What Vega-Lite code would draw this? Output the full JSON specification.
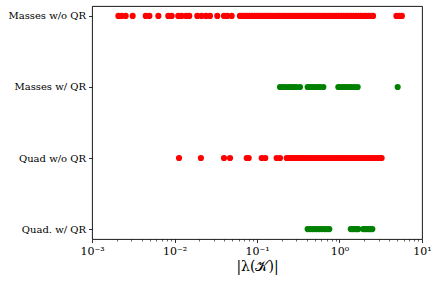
{
  "$schema": "https://vega.github.io/schema/vega-lite/v6.json",
  "width": 330,
  "height": 233,
  "autosize": {"type": "none"},
  "padding": {"left": 92, "top": 6, "right": 14, "bottom": 43},
  "background": "white",
  "config": {
    "view": {"stroke": "#000", "strokeWidth": 0.9},
    "font": "DejaVu Serif",
    "axis": {"labelFont": "DejaVu Serif", "titleFont": "DejaVu Serif", "labelColor": "#000", "titleColor": "#000", "tickColor": "#000", "domain": false, "grid": false, "tickWidth": 0.8}
  },
  "data": {"values": [
    {"g":"Masses w/o QR","v":0.00209},{"g":"Masses w/o QR","v":0.00229},{"g":"Masses w/o QR","v":0.00256},{"g":"Masses w/o QR","v":0.00311},
    {"g":"Masses w/o QR","v":0.00448},{"g":"Masses w/o QR","v":0.00496},{"g":"Masses w/o QR","v":0.00637},{"g":"Masses w/o QR","v":0.00841},
    {"g":"Masses w/o QR","v":0.00924},{"g":"Masses w/o QR","v":0.0111},{"g":"Masses w/o QR","v":0.0122},{"g":"Masses w/o QR","v":0.0138},
    {"g":"Masses w/o QR","v":0.0151},{"g":"Masses w/o QR","v":0.0189},{"g":"Masses w/o QR","v":0.0213},{"g":"Masses w/o QR","v":0.0241},
    {"g":"Masses w/o QR","v":0.0269},{"g":"Masses w/o QR","v":0.033},{"g":"Masses w/o QR","v":0.0398},{"g":"Masses w/o QR","v":0.0436},
    {"g":"Masses w/o QR","v":0.0493},{"g":"Masses w/o QR","v":0.062},{"g":"Masses w/o QR","v":0.066},{"g":"Masses w/o QR","v":0.071},
    {"g":"Masses w/o QR","v":0.076},{"g":"Masses w/o QR","v":0.081},{"g":"Masses w/o QR","v":0.087},{"g":"Masses w/o QR","v":0.093},
    {"g":"Masses w/o QR","v":0.1},{"g":"Masses w/o QR","v":0.107},{"g":"Masses w/o QR","v":0.115},{"g":"Masses w/o QR","v":0.123},
    {"g":"Masses w/o QR","v":0.132},{"g":"Masses w/o QR","v":0.141},{"g":"Masses w/o QR","v":0.151},{"g":"Masses w/o QR","v":0.162},
    {"g":"Masses w/o QR","v":0.174},{"g":"Masses w/o QR","v":0.186},{"g":"Masses w/o QR","v":0.2},{"g":"Masses w/o QR","v":0.214},
    {"g":"Masses w/o QR","v":0.229},{"g":"Masses w/o QR","v":0.245},{"g":"Masses w/o QR","v":0.263},{"g":"Masses w/o QR","v":0.282},
    {"g":"Masses w/o QR","v":0.302},{"g":"Masses w/o QR","v":0.324},{"g":"Masses w/o QR","v":0.347},{"g":"Masses w/o QR","v":0.372},
    {"g":"Masses w/o QR","v":0.398},{"g":"Masses w/o QR","v":0.427},{"g":"Masses w/o QR","v":0.457},{"g":"Masses w/o QR","v":0.49},
    {"g":"Masses w/o QR","v":0.525},{"g":"Masses w/o QR","v":0.562},{"g":"Masses w/o QR","v":0.603},{"g":"Masses w/o QR","v":0.646},
    {"g":"Masses w/o QR","v":0.692},{"g":"Masses w/o QR","v":0.741},{"g":"Masses w/o QR","v":0.794},{"g":"Masses w/o QR","v":0.851},
    {"g":"Masses w/o QR","v":0.912},{"g":"Masses w/o QR","v":0.977},{"g":"Masses w/o QR","v":1.05},{"g":"Masses w/o QR","v":1.12},
    {"g":"Masses w/o QR","v":1.2},{"g":"Masses w/o QR","v":1.29},{"g":"Masses w/o QR","v":1.38},{"g":"Masses w/o QR","v":1.48},
    {"g":"Masses w/o QR","v":1.58},{"g":"Masses w/o QR","v":1.7},{"g":"Masses w/o QR","v":1.82},{"g":"Masses w/o QR","v":1.95},
    {"g":"Masses w/o QR","v":2.09},{"g":"Masses w/o QR","v":2.24},{"g":"Masses w/o QR","v":2.4},{"g":"Masses w/o QR","v":2.55},
    {"g":"Masses w/o QR","v":4.9},{"g":"Masses w/o QR","v":5.3},{"g":"Masses w/o QR","v":5.7},
    {"g":"Masses w/ QR","v":0.19},{"g":"Masses w/ QR","v":0.205},{"g":"Masses w/ QR","v":0.22},{"g":"Masses w/ QR","v":0.24},
    {"g":"Masses w/ QR","v":0.26},{"g":"Masses w/ QR","v":0.28},{"g":"Masses w/ QR","v":0.3},{"g":"Masses w/ QR","v":0.332},
    {"g":"Masses w/ QR","v":0.411},{"g":"Masses w/ QR","v":0.44},{"g":"Masses w/ QR","v":0.47},{"g":"Masses w/ QR","v":0.5},
    {"g":"Masses w/ QR","v":0.54},{"g":"Masses w/ QR","v":0.58},{"g":"Masses w/ QR","v":0.637},
    {"g":"Masses w/ QR","v":0.968},{"g":"Masses w/ QR","v":1.04},{"g":"Masses w/ QR","v":1.12},{"g":"Masses w/ QR","v":1.2},
    {"g":"Masses w/ QR","v":1.3},{"g":"Masses w/ QR","v":1.4},{"g":"Masses w/ QR","v":1.52},{"g":"Masses w/ QR","v":1.66},
    {"g":"Masses w/ QR","v":5.07},
    {"g":"Quad w/o QR","v":0.01135},{"g":"Quad w/o QR","v":0.0209},{"g":"Quad w/o QR","v":0.0398},{"g":"Quad w/o QR","v":0.0471},
    {"g":"Quad w/o QR","v":0.075},{"g":"Quad w/o QR","v":0.0793},{"g":"Quad w/o QR","v":0.114},{"g":"Quad w/o QR","v":0.126},
    {"g":"Quad w/o QR","v":0.173},{"g":"Quad w/o QR","v":0.19},{"g":"Quad w/o QR","v":0.229},{"g":"Quad w/o QR","v":0.245},
    {"g":"Quad w/o QR","v":0.26},{"g":"Quad w/o QR","v":0.275},{"g":"Quad w/o QR","v":0.29},{"g":"Quad w/o QR","v":0.31},
    {"g":"Quad w/o QR","v":0.33},{"g":"Quad w/o QR","v":0.35},{"g":"Quad w/o QR","v":0.372},{"g":"Quad w/o QR","v":0.398},
    {"g":"Quad w/o QR","v":0.427},{"g":"Quad w/o QR","v":0.457},{"g":"Quad w/o QR","v":0.49},{"g":"Quad w/o QR","v":0.525},
    {"g":"Quad w/o QR","v":0.562},{"g":"Quad w/o QR","v":0.603},{"g":"Quad w/o QR","v":0.646},{"g":"Quad w/o QR","v":0.692},
    {"g":"Quad w/o QR","v":0.741},{"g":"Quad w/o QR","v":0.794},{"g":"Quad w/o QR","v":0.851},{"g":"Quad w/o QR","v":0.912},
    {"g":"Quad w/o QR","v":0.977},{"g":"Quad w/o QR","v":1.05},{"g":"Quad w/o QR","v":1.12},{"g":"Quad w/o QR","v":1.2},
    {"g":"Quad w/o QR","v":1.29},{"g":"Quad w/o QR","v":1.38},{"g":"Quad w/o QR","v":1.48},{"g":"Quad w/o QR","v":1.58},
    {"g":"Quad w/o QR","v":1.7},{"g":"Quad w/o QR","v":1.82},{"g":"Quad w/o QR","v":1.95},{"g":"Quad w/o QR","v":2.09},
    {"g":"Quad w/o QR","v":2.24},{"g":"Quad w/o QR","v":2.4},{"g":"Quad w/o QR","v":2.57},{"g":"Quad w/o QR","v":2.75},
    {"g":"Quad w/o QR","v":2.95},{"g":"Quad w/o QR","v":3.1},{"g":"Quad w/o QR","v":3.24},
    {"g":"Quad. w/ QR","v":0.411},{"g":"Quad. w/ QR","v":0.44},{"g":"Quad. w/ QR","v":0.47},{"g":"Quad. w/ QR","v":0.5},
    {"g":"Quad. w/ QR","v":0.53},{"g":"Quad. w/ QR","v":0.57},{"g":"Quad. w/ QR","v":0.61},{"g":"Quad. w/ QR","v":0.66},
    {"g":"Quad. w/ QR","v":0.7},{"g":"Quad. w/ QR","v":0.752},
    {"g":"Quad. w/ QR","v":1.37},{"g":"Quad. w/ QR","v":1.45},{"g":"Quad. w/ QR","v":1.53},{"g":"Quad. w/ QR","v":1.61},
    {"g":"Quad. w/ QR","v":1.69},
    {"g":"Quad. w/ QR","v":1.94},{"g":"Quad. w/ QR","v":2.04},{"g":"Quad. w/ QR","v":2.15},{"g":"Quad. w/ QR","v":2.27},
    {"g":"Quad. w/ QR","v":2.38},{"g":"Quad. w/ QR","v":2.5}
  ]},
  "resolve": {"axis": {"x": "independent"}},
  "layer": [
    {
      "mark": {"type": "point", "filled": true, "opacity": 0, "size": 38},
      "encoding": {
        "x": {"field": "v", "type": "quantitative", "scale": {"type": "log", "domain": [0.001, 10], "nice": false},
          "axis": {"orient": "bottom", "values": [0.002,0.003,0.004,0.005,0.006,0.007,0.008,0.009,0.02,0.03,0.04,0.05,0.06,0.07,0.08,0.09,0.2,0.3,0.4,0.5,0.6,0.7,0.8,0.9,2,3,4,5,6,7,8,9], "labels": false, "tickSize": 2, "tickWidth": 0.6, "title": null}},
        "y": {"field": "g", "type": "nominal", "sort": ["Masses w/o QR","Masses w/ QR","Quad w/o QR","Quad. w/ QR"], "scale": {"type": "point", "padding": 0.14},
          "axis": {"title": null, "tickSize": 3.5, "labelFontSize": 10, "labelPadding": 3}}
      }
    },
    {
      "mark": {"type": "point", "filled": true, "opacity": 1, "size": 38, "strokeWidth": 0},
      "encoding": {
        "x": {"field": "v", "type": "quantitative", "scale": {"type": "log", "domain": [0.001, 10], "nice": false},
          "axis": {"orient": "bottom", "values": [0.001, 0.01, 0.1, 1, 10], "tickSize": 3.5, "labelPadding": 3, "labelFontSize": 11,
            "labelExpr": "'10' + ['⁻³','⁻²','⁻¹','⁰','¹'][round(log(datum.value)/LN10)+3]",
            "labelFlush": false, "title": "|λ(𝒦)|", "titleFontSize": 14, "titleFontWeight": "normal", "titlePadding": 3}},
        "y": {"field": "g", "type": "nominal", "sort": ["Masses w/o QR","Masses w/ QR","Quad w/o QR","Quad. w/ QR"], "scale": {"type": "point", "padding": 0.14},
          "axis": {"title": null, "tickSize": 3.5, "labelFontSize": 10, "labelPadding": 3}},
        "color": {"field": "g", "type": "nominal", "scale": {"domain": ["Masses w/o QR","Masses w/ QR","Quad w/o QR","Quad. w/ QR"], "range": ["#ff0000","#008000","#ff0000","#008000"]}, "legend": null}
      }
    }
  ]
}
